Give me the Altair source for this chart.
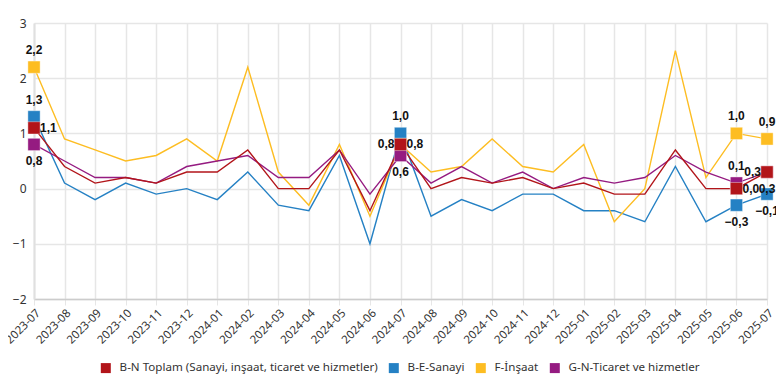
import altair as alt
import pandas as pd

months = ["2023-07","2023-08","2023-09","2023-10","2023-11","2023-12","2024-01","2024-02",
          "2024-03","2024-04","2024-05","2024-06","2024-07","2024-08","2024-09","2024-10",
          "2024-11","2024-12","2025-01","2025-02","2025-03","2025-04","2025-05","2025-06","2025-07"]

series_names = ["B-N Toplam (Sanayi, inşaat, ticaret ve hizmetler)", "B-E-Sanayi",
                "F-İnşaat", "G-N-Ticaret ve hizmetler"]
colors = ["#B2151A", "#2581C4", "#FDBD22", "#951B81"]

bn = [1.1,0.4,0.1,0.2,0.1,0.3,0.3,0.7,0.0,0.0,0.7,-0.4,0.8,0.0,0.2,0.1,0.2,0.0,0.1,-0.1,-0.1,0.7,0.0,0.0,0.3]
be = [1.3,0.1,-0.2,0.1,-0.1,0.0,-0.2,0.3,-0.3,-0.4,0.6,-1.0,1.0,-0.5,-0.2,-0.4,-0.1,-0.1,-0.4,-0.4,-0.6,0.4,-0.6,-0.3,-0.1]
f_ins = [2.2,0.9,0.7,0.5,0.6,0.9,0.5,2.2,0.3,-0.3,0.8,-0.5,0.8,0.3,0.4,0.9,0.4,0.3,0.8,-0.6,0.0,2.5,0.2,1.0,0.9]
gn = [0.8,0.5,0.2,0.2,0.1,0.4,0.5,0.6,0.2,0.2,0.7,-0.1,0.6,0.1,0.4,0.1,0.3,0.0,0.2,0.1,0.2,0.6,0.3,0.1,0.3]
values = [bn, be, f_ins, gn]

labeled_months = ["2023-07", "2024-07", "2025-06", "2025-07"]
label_pos = {
    series_names[0]: ["right", "left", "right", "left"],
    series_names[1]: ["top", "top", "bottom", "bottom"],
    series_names[2]: ["top", "right", "top", "top"],
    series_names[3]: ["bottom", "bottom", "top", "bottom"],
}

rows = []
for s, vals in zip(series_names, values):
    for m, v in zip(months, vals):
        pos = label_pos[s][labeled_months.index(m)] if m in labeled_months else ""
        rows.append({"month": m, "series": s, "value": v, "pos": pos})
df = pd.DataFrame(rows)

color_scale = alt.Scale(domain=series_names, range=colors)
x_enc = alt.X("month:O", sort=months, scale=alt.Scale(type="point", padding=0),
              axis=alt.Axis(title=None, labelAngle=-45, labelFontSize=11.5, labelColor="#333333",
                            labelFont="Noto Sans", grid=True, gridColor="#e6e6e6", gridWidth=1.5,
                            tickColor="#e6e6e6", tickSize=6, domainColor="#cccccc", domainWidth=1.5,
                            labelPadding=2))
y_enc = alt.Y("value:Q", scale=alt.Scale(domain=[-2, 3], nice=False),
              axis=alt.Axis(title=None, values=[-2, -1, 0, 1, 2, 3], labelFontSize=12,
                            labelColor="#333333", labelFont="Noto Sans", grid=True,
                            gridColor="#e6e6e6", gridWidth=1.5, ticks=False,
                            domainColor="#e0e0e0", domainWidth=2, labelPadding=8))

base = alt.Chart(df)
draw_order = [series_names[1], series_names[2], series_names[3], series_names[0]]

layers = []
for s in draw_order:
    layers.append(base.transform_filter(alt.datum.series == s).mark_line(strokeWidth=1.4).encode(
        x=x_enc, y=y_enc,
        color=alt.Color("series:N", scale=color_scale, sort=series_names,
                        legend=alt.Legend(title=None, orient="none", direction="horizontal",
                                          legendX=66, legendY=339, symbolType="square",
                                          symbolSize=100, symbolStrokeWidth=0,
                                          labelFontSize=11.6, labelFont="Noto Sans",
                                          labelColor="#333333", columnPadding=10,
                                          labelOffset=8, padding=0, labelLimit=400))))

for s in draw_order:
    layers.append(base.transform_filter(
        (alt.datum.series == s) & (alt.datum.pos != "")).mark_point(
        shape="square", filled=True, size=150, opacity=1, stroke="white",
        strokeOpacity=0.4, strokeWidth=1).encode(
        x=x_enc, y=y_enc, color=alt.Color("series:N", scale=color_scale, legend=None)))

offsets = {"top": dict(dy=-17, align="center"), "bottom": dict(dy=17, align="center"),
           "left": dict(dx=-6, align="right"), "right": dict(dx=6, align="left")}
for p, kw in offsets.items():
    layers.append(base.transform_filter(alt.datum.pos == p).transform_calculate(
        label="replace(format(datum.value, '.1f'), '.', ',')").mark_text(
        font="Liberation Sans", fontWeight="bold", fontSize=12, color="#111111",
        baseline="middle", **kw).encode(x=x_enc, y=y_enc, text="label:N"))

chart = alt.layer(*layers).properties(
    width=733, height=276,
    padding={"left": 26, "top": 15, "right": 9, "bottom": 84},
    autosize=alt.AutoSizeParams(type="none"),
).configure_view(stroke=None)

chart.save("out.html", embed_options={"renderer": "svg", "actions": False})
